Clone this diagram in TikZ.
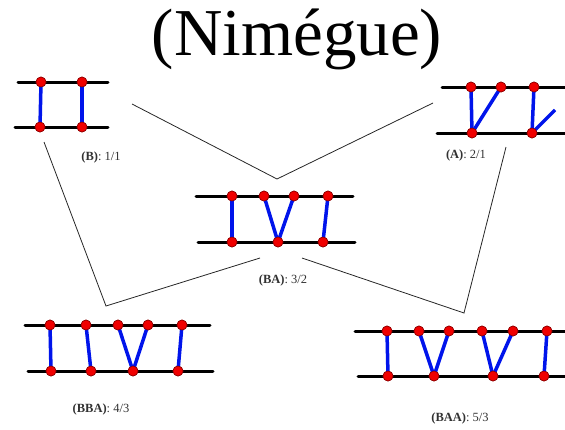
\documentclass[tikz,border=0pt]{standalone}
\usepackage{fontspec}
\setmainfont{Liberation Serif}
\definecolor{DotRed}{RGB}{240,0,0}
\definecolor{DotRim}{RGB}{140,0,0}
\definecolor{LinkBlue}{RGB}{0,20,235}
\definecolor{LabelGray}{RGB}{50,50,50}
\usetikzlibrary{calc}

\tikzset{
  rail/.style={line width=3pt, black, line cap=round},
  link/.style={line width=3.5pt, LinkBlue},
  dot/.style={circle, fill=DotRed, draw=DotRim, line width=0.6pt, inner sep=0pt, minimum size=10pt},
  edge/.style={line width=0.8pt, black!85},
  lab/.style={font=\fontsize{12.5}{14}\selectfont, text=LabelGray}
}

\begin{document}
\begin{tikzpicture}[x=1pt, y=-1pt]
\useasboundingbox (0,0) rectangle (565,429);

% Title
\node[anchor=base, font=\fontsize{67}{70}\selectfont] (title) at (297,55) {(Nimégue)};

% Thin connectors (behind the ladders)
\coordinate (vB) at (132,104);
\coordinate (vA) at (433,103);
\coordinate (vTop) at (277,179);
\coordinate (lB) at (44,142);
\coordinate (lBot) at (106,306);
\coordinate (lBA) at (260,258);
\coordinate (rA) at (506,147);
\coordinate (rBot) at (464,313);
\coordinate (rBA) at (302,258);
\draw[edge] (vB) -- (vTop) -- (vA);
\draw[edge] (lB) -- (lBot) -- (lBA);
\draw[edge] (rA) -- (rBot) -- (rBA);

% (B): 1/1
\draw[rail] (18,82) -- (108,82);
\draw[rail] (15,127) -- (108,127);
\node[dot] (b-t1) at (41,82) {};
\node[dot] (b-t2) at (82,82) {};
\node[dot] (b-b1) at (40,127) {};
\node[dot] (b-b2) at (82,127) {};
\draw[link] (b-t1.center) -- (b-b1.center);
\draw[link] (b-t2.center) -- (b-b2.center);
\foreach \n in {b-t1,b-t2,b-b1,b-b2} \node[dot] at (\n) {};
\node[lab] (labB) at (101,157) {\textbf{(B)}: 1/1};

% (A): 2/1
\draw[rail] (442,87) -- (565,87);
\draw[rail] (437,133) -- (565,133);
\coordinate (a-free) at (555,110);
\node[dot] (a-t1) at (471,87) {};
\node[dot] (a-t2) at (501,87) {};
\node[dot] (a-t3) at (534,87) {};
\node[dot] (a-b1) at (472,133) {};
\node[dot] (a-b2) at (532,133) {};
\draw[link] (a-t1.center) -- (a-b1.center);
\draw[link] (a-t2.center) -- (a-b1.center);
\draw[link] (a-t3.center) -- (a-b2.center);
\draw[link] (a-b2.center) -- (a-free);
\foreach \n in {a-t1,a-t2,a-t3,a-b1,a-b2} \node[dot] at (\n) {};
\node[lab] (labA) at (466,155) {\textbf{(A)}: 2/1};

% (BA): 3/2
\draw[rail] (196,196) -- (353,196);
\draw[rail] (198,242) -- (355,242);
\node[dot] (ba-t1) at (232,196) {};
\node[dot] (ba-t2) at (264,196) {};
\node[dot] (ba-t3) at (294,196) {};
\node[dot] (ba-t4) at (328,196) {};
\node[dot] (ba-b1) at (232,242) {};
\node[dot] (ba-b2) at (278,242) {};
\node[dot] (ba-b3) at (323,242) {};
\draw[link] (ba-t1.center) -- (ba-b1.center);
\draw[link] (ba-t2.center) -- (ba-b2.center);
\draw[link] (ba-t3.center) -- (ba-b2.center);
\draw[link] (ba-t4.center) -- (ba-b3.center);
\foreach \n in {ba-t1,ba-t2,ba-t3,ba-t4,ba-b1,ba-b2,ba-b3} \node[dot] at (\n) {};
\node[lab] (labBA) at (283,280) {\textbf{(BA)}: 3/2};

% (BBA): 4/3
\draw[rail] (25,325) -- (210,325);
\draw[rail] (28,371) -- (213,371);
\node[dot] (bba-t1) at (50,325) {};
\node[dot] (bba-t2) at (86,325) {};
\node[dot] (bba-t3) at (118,325) {};
\node[dot] (bba-t4) at (148,325) {};
\node[dot] (bba-t5) at (182,325) {};
\node[dot] (bba-b1) at (51,371) {};
\node[dot] (bba-b2) at (91,371) {};
\node[dot] (bba-b3) at (133,371) {};
\node[dot] (bba-b4) at (178,371) {};
\draw[link] (bba-t1.center) -- (bba-b1.center);
\draw[link] (bba-t2.center) -- (bba-b2.center);
\draw[link] (bba-t3.center) -- (bba-b3.center);
\draw[link] (bba-t4.center) -- (bba-b3.center);
\draw[link] (bba-t5.center) -- (bba-b4.center);
\foreach \n in {bba-t1,bba-t2,bba-t3,bba-t4,bba-t5,bba-b1,bba-b2,bba-b3,bba-b4} \node[dot] at (\n) {};
\node[lab] (labBBA) at (101,409) {\textbf{(BBA)}: 4/3};

% (BAA): 5/3
\draw[rail] (355,331) -- (565,331);
\draw[rail] (358,376) -- (565,376);
\node[dot] (baa-t1) at (387,331) {};
\node[dot] (baa-t2) at (419,331) {};
\node[dot] (baa-t3) at (449,331) {};
\node[dot] (baa-t4) at (482,331) {};
\node[dot] (baa-t5) at (513,331) {};
\node[dot] (baa-t6) at (547,331) {};
\node[dot] (baa-b1) at (388,376) {};
\node[dot] (baa-b2) at (434,376) {};
\node[dot] (baa-b3) at (493,376) {};
\node[dot] (baa-b4) at (544,376) {};
\draw[link] (baa-t1.center) -- (baa-b1.center);
\draw[link] (baa-t2.center) -- (baa-b2.center);
\draw[link] (baa-t3.center) -- (baa-b2.center);
\draw[link] (baa-t4.center) -- (baa-b3.center);
\draw[link] (baa-t5.center) -- (baa-b3.center);
\draw[link] (baa-t6.center) -- (baa-b4.center);
\foreach \n in {baa-t1,baa-t2,baa-t3,baa-t4,baa-t5,baa-t6,baa-b1,baa-b2,baa-b3,baa-b4} \node[dot] at (\n) {};
\node[lab] (labBAA) at (460,418) {\textbf{(BAA)}: 5/3};
\end{tikzpicture}
\end{document}
